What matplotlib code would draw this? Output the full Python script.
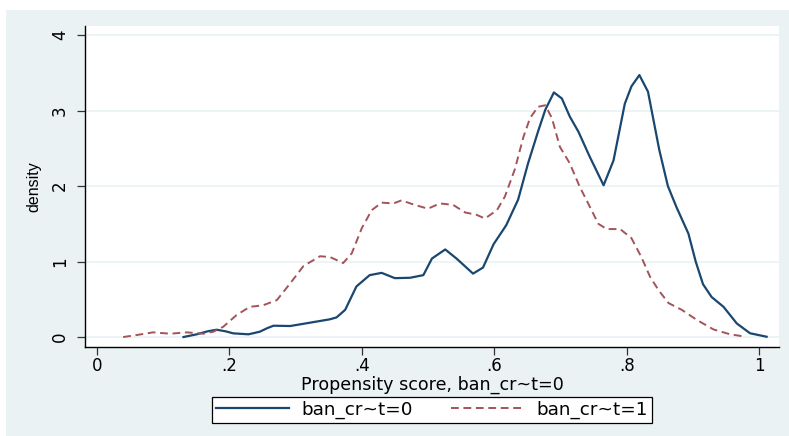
import numpy as np
import matplotlib
matplotlib.use('Agg')
import matplotlib.pyplot as plt
from matplotlib.patches import Rectangle

# kernel density of propensity score
x_t0 = [0.131, 0.151, 0.167, 0.181, 0.195, 0.206, 0.229, 0.246, 0.258, 0.267,
        0.292, 0.322, 0.352, 0.362, 0.375, 0.392, 0.412, 0.430, 0.450, 0.473,
        0.493, 0.506, 0.526, 0.543, 0.568, 0.583, 0.599, 0.618, 0.636, 0.651,
        0.666, 0.677, 0.690, 0.702, 0.714, 0.727, 0.744, 0.765, 0.780, 0.797,
        0.807, 0.819, 0.832, 0.849, 0.862, 0.875, 0.893, 0.904, 0.915, 0.928,
        0.946, 0.966, 0.986, 1.011]
y_t0 = [0.0, 0.036, 0.075, 0.097, 0.075, 0.049, 0.036, 0.07, 0.12, 0.15,
        0.146, 0.19, 0.235, 0.26, 0.36, 0.67, 0.82, 0.85, 0.78, 0.785,
        0.82, 1.04, 1.16, 1.04, 0.84, 0.92, 1.23, 1.48, 1.82, 2.30,
        2.72, 3.01, 3.24, 3.16, 2.92, 2.72, 2.39, 2.01, 2.34, 3.09,
        3.32, 3.47, 3.25, 2.48, 2.0, 1.72, 1.37, 1.0, 0.70, 0.53,
        0.40, 0.18, 0.05, 0.004]

x_t1 = [0.040, 0.060, 0.085, 0.111, 0.136, 0.161, 0.176, 0.191, 0.211, 0.231,
        0.251, 0.272, 0.292, 0.312, 0.337, 0.352, 0.372, 0.385, 0.400, 0.415,
        0.430, 0.448, 0.460, 0.480, 0.500, 0.518, 0.538, 0.556, 0.573, 0.586,
        0.604, 0.616, 0.631, 0.644, 0.654, 0.666, 0.677, 0.687, 0.699, 0.714,
        0.729, 0.744, 0.757, 0.770, 0.790, 0.807, 0.822, 0.835, 0.848, 0.863,
        0.883, 0.906, 0.931, 0.956, 0.976]
y_t1 = [0.0, 0.026, 0.062, 0.044, 0.062, 0.044, 0.07, 0.136, 0.29, 0.40,
        0.42, 0.49, 0.71, 0.94, 1.07, 1.06, 0.98, 1.11, 1.44, 1.68,
        1.78, 1.77, 1.81, 1.75, 1.70, 1.77, 1.75, 1.65, 1.62, 1.57,
        1.68, 1.86, 2.22, 2.65, 2.90, 3.05, 3.07, 2.90, 2.52, 2.30,
        1.99, 1.73, 1.50, 1.43, 1.43, 1.31, 1.06, 0.80, 0.62, 0.45,
        0.36, 0.225, 0.10, 0.036, 0.009]

xtick_vals = [0, 0.2, 0.4, 0.6, 0.8, 1]
xtick_labels = ['0', '.2', '.4', '.6', '.8', '1']
ytick_vals = [0, 1, 2, 3, 4]

navy = '#1a476f'
maroon = '#a2545a'
bg = '#eaf2f3'

plt.rcParams['font.family'] = ['DejaVu Sans']

fig = plt.figure(figsize=(7.89, 4.36), dpi=100)
fig.patch.set_facecolor('white')
# stata style outer panel
fig.patches.append(Rectangle((6 / 789, 0), 1 - 6 / 789, 1 - 10 / 436,
                             transform=fig.transFigure, facecolor=bg,
                             edgecolor='none', zorder=-10))

ax = fig.add_axes([85 / 789, 89 / 436, 694 / 789, 321 / 436])
ax.set_facecolor('white')

ax.plot(x_t0, y_t0, color=navy, lw=1.6, label='ban_cr~t=0')
ax.plot(x_t1, y_t1, color=maroon, lw=1.4, dashes=(4, 2.4), label='ban_cr~t=1')

ax.set_xlim(-0.0176, 1.0297)
ax.set_ylim(-0.132, 4.12)
ax.set_xticks(xtick_vals)
ax.set_xticklabels(xtick_labels)
ax.set_yticks(ytick_vals)
ax.set_yticklabels([str(v) for v in ytick_vals], rotation=90, va='center')
ax.tick_params(axis='both', labelsize=12, length=5.5, width=0.9, color='#333333')
ax.tick_params(axis='y', pad=6)
ax.tick_params(axis='x', pad=1.5)
ax.grid(axis='y', color=bg, lw=1.2)
ax.set_axisbelow(True)
for s in ['top', 'right']:
    ax.spines[s].set_visible(False)
for s in ['left', 'bottom']:
    ax.spines[s].set_linewidth(1.0)
    ax.spines[s].set_color('black')

ax.set_xlabel('Propensity score, ban_cr~t=0', fontsize=12.6, labelpad=0.5)
ax.set_ylabel('density', fontsize=11.5, family='Liberation Sans', labelpad=7)

leg = fig.legend(loc='center', bbox_to_anchor=(432 / 789, 26 / 436), ncol=2,
                 fontsize=13.2, frameon=True, fancybox=False, edgecolor='black',
                 facecolor='white', framealpha=1,
                 handlelength=4.0, handletextpad=0.66, columnspacing=2.1,
                 borderpad=0.2)
leg.get_frame().set_linewidth(0.9)

fig.savefig('out.png', dpi=100, facecolor=fig.get_facecolor())
